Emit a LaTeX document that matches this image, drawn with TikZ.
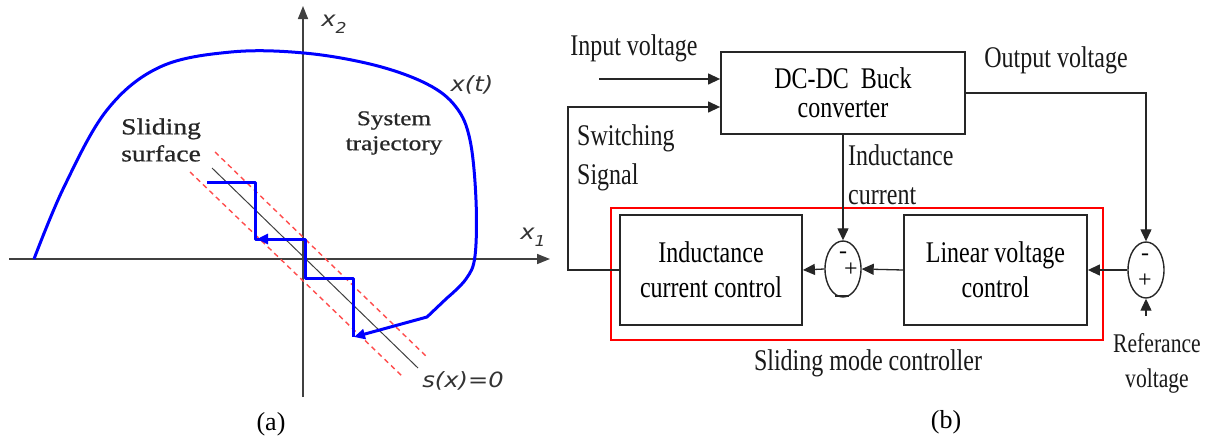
\documentclass[tikz,border=0pt]{standalone}
\usepackage{fontspec}
\setmainfont{Liberation Serif}
\newfontfamily\bfont[FakeStretch=0.8]{Liberation Serif}
\newfontfamily\afont[FakeStretch=1.2, FakeBold=0.8]{Liberation Serif}
\newfontfamily\ifont[FakeStretch=1.15]{DejaVu Sans}
\usetikzlibrary{arrows.meta,shapes.geometric}

\begin{document}
\begin{tikzpicture}[x=1pt, y=-1pt,
  blk/.style={draw=black!85, line width=1.8pt, inner sep=0pt, align=center, font=\bfont\fontsize{30}{35}\selectfont},
  sumj/.style={ellipse, draw=black!85, line width=1.4pt, minimum width=36pt, minimum height=56pt, inner sep=0pt},
  sig/.style={line width=1.3pt, draw=black!85, -{Triangle[length=12pt,width=11pt]}},
  lbl/.style={font=\bfont\fontsize{30}{39}\selectfont, align=left, inner sep=0pt, text=black!90},
  sgn/.style={font=\fontsize{24}{24}\selectfont, inner sep=0pt},
  alab/.style={font=\afont\fontsize{23}{27}\selectfont, inner sep=0pt, text=black!85},
  ilbl/.style={font=\ifont\itshape\fontsize{21}{21}\selectfont, text=black!80, inner sep=0pt},
  axis/.style={line width=1.5pt, draw=black!75, -{Triangle[length=13pt,width=10pt]}},
  traj/.style={draw=blue, line width=3pt, line join=round},
  tarr/.style={traj, -{Triangle[length=11pt,width=10pt]}},
  band/.style={draw=red!70, line width=1.4pt, dash pattern=on 5pt off 4pt}
]
\useasboundingbox (0,0) rectangle (1211,442);

% (a) phase plane
\draw[axis] (9,259) -- (550,259);
\draw[axis] (303,397) -- (303,6);
\node[ilbl] (xone) at (533,237) {x\raisebox{-7pt}{\fontsize{15}{15}\selectfont 1}};
\node[ilbl] (xtwo) at (334,24) {x\raisebox{-7pt}{\fontsize{15}{15}\selectfont 2}};

% sliding surface and band
\draw[black!75, line width=1pt] (212,168) -- (418,368);
\draw[band] (215,152) -- (428,358);
\draw[band] (190,172) -- (403,377);

% system trajectory
\draw[tarr] plot[smooth, tension=0.6] coordinates {(34,259) (64,187) (107,110) (160,67) (231,52) (304,53) (374,65) (427,84) (456,107) (470,140) (476,200) (475,256) (466,279) (447,298)} -- (427,317) -- (354,337);
\draw[traj] (353,337) -- (353,278) -- (305,278) -- (305,239) -- (255,239) -- (255,182) -- (207,182);
\draw[tarr] (305,239) -- (257,239);

\node[alab, anchor=west, align=left] (surf) at (121,140) {Sliding\\surface};
\node[alab, font=\afont\fontsize{21}{25}\selectfont, align=center] (systraj) at (394,133) {System\\trajectory};
\node[ilbl] (xt) at (472,85) {x(t)};
\node[ilbl] (sx) at (463,381) {s(x)=0};
\node[font=\fontsize{26}{26}\selectfont, inner sep=0pt] (capa) at (271,424) {(a)};

% (b) sliding mode control loop
\node[draw=red, line width=1.3pt, minimum width=492pt, minimum height=132pt, inner sep=0pt] (smc) at (857,274) {};
\node[blk, minimum width=244pt, minimum height=82pt, font=\bfont\fontsize{30}{29}\selectfont] (buck) at (843,93) {DC-DC\ \ Buck\\converter};
\node[blk, minimum width=182pt, minimum height=110pt] (icc) at (711,270) {Inductance\\current control};
\node[blk, minimum width=183pt, minimum height=110pt] (lvc) at (995.5,270) {Linear voltage\\control};
\node[sumj] (sumi) at (843,269) {};
\node[sumj] (sumv) at (1146,270) {};
\node[sgn] (sumim) at (843,255) {-};
\node[sgn] (sumip) at (851,270) {+};
\draw[black!85, line width=1.8pt] (835,296) -- (849,296);
\node[sgn] (sumvm) at (1145,257) {-};
\node[sgn] (sumvp) at (1145,281) {+};

\coordinate (vin) at (599,79);
\coordinate (swc) at (568,107);
\coordinate (vref) at (1146,316);

\draw[sig] (vin) -- (vin -| buck.west);
\draw[sig] (icc.west) -| (swc) -- (swc -| buck.west);
\draw[sig] (buck.east) -| (sumv.north);
\draw[sig] (buck.south) -- (sumi.north);
\draw[sig] (vref) -- (sumv.south);
\draw[sig] (sumv.west) -- (lvc.east);
\draw[sig] (lvc.west) -- (sumi.east);
\draw[sig] (sumi.west) -- (icc.east);

\node[lbl] (vinlbl) at (634,48) {Input voltage};
\node[lbl, anchor=west] (swlbl) at (577,158) {Switching\\Signal};
\node[lbl] (voutlbl) at (1056,60) {Output voltage};
\node[lbl, anchor=west] (illbl) at (848,175) {Inductance\\current};
\node[lbl, align=center, font=\bfont\fontsize{27}{35}\selectfont] (reflbl) at (1157,363) {Referance\\voltage};
\node[lbl] (smclbl) at (868,363) {Sliding mode controller};
\node[font=\fontsize{26}{26}\selectfont, inner sep=0pt] (capb) at (946,422) {(b)};
\end{tikzpicture}
\end{document}
